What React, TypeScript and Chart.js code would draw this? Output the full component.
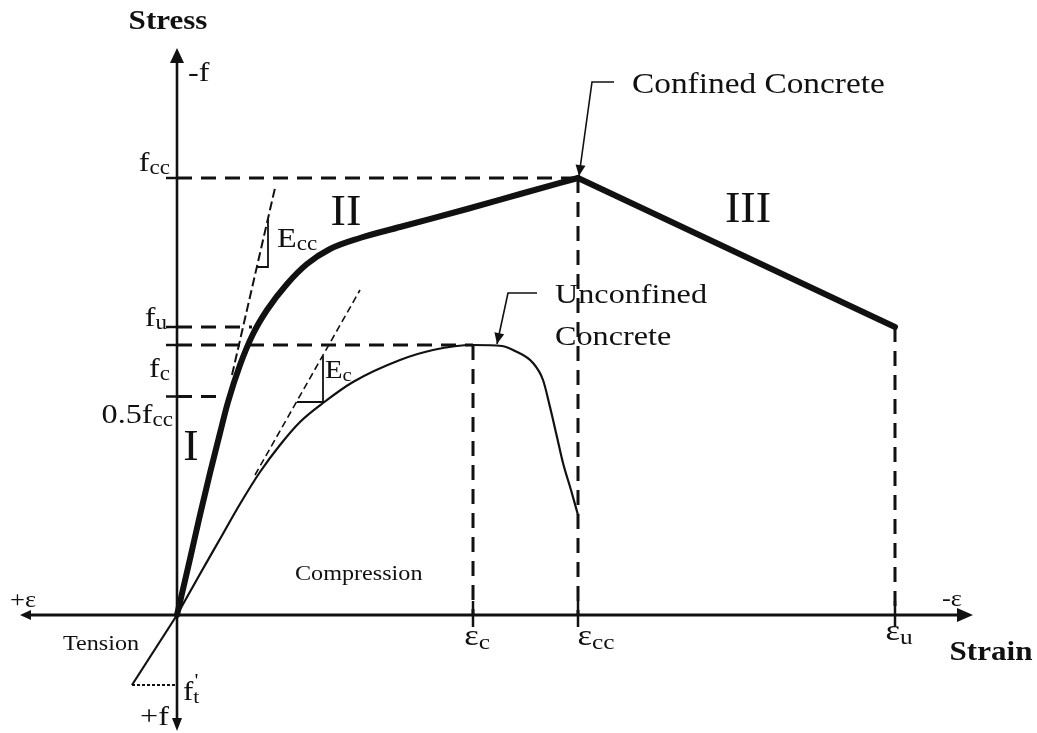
import { useEffect, useRef } from "react";
import { Chart, registerables } from "chart.js";

Chart.register(...registerables);

const INK = "#111111";
const SERIF = '"Liberation Serif", "Times New Roman", serif';

// Characteristic strains on the horizontal axis: εc, εcc, εu
const keyStrains = [2.96, 4.01, 7.18];
const keyStrainBase = ["ε", "ε", "ε"];
const keyStrainSub = ["c", "cc", "u"];

// Characteristic stresses on the vertical axis: fcc, fu, fc, 0.5fcc
const keyStresses = [43.7, 28.8, 27.0, 21.85];
const keyStressBase = ["f", "f", "f", "0.5f"];
const keyStressSub = ["cc", "u", "c", "cc"];

// Confined concrete: rising branch (I + II) up to the peak (εcc, fcc)
const confinedRiseStrain = [0, 0.13, 0.23, 0.33, 0.43, 0.51, 0.63, 0.76, 0.9, 1.1, 1.3, 1.53, 1.83, 2.23, 2.9, 3.45, 4.01];
const confinedRiseStress = [0, 5.6, 10.0, 14.2, 18.2, 21.3, 25.0, 28.1, 30.5, 33.1, 35.1, 36.6, 37.7, 38.8, 40.6, 42.15, 43.7];
// Confined concrete: linear softening branch (III) from the peak to (εu, fu)
const confinedFallStrain = [4.01, 7.18];
const confinedFallStress = [43.7, 28.8];

// Unconfined concrete
const unconfinedStrain = [0, 0.23, 0.43, 0.63, 0.83, 1.03, 1.23, 1.46, 1.76, 2.23, 2.56, 2.96, 3.25, 3.38, 3.56, 3.66, 3.73, 3.8, 3.86, 3.94, 4.01];
const unconfinedStress = [0, 4.1, 7.6, 11.1, 14.3, 17.0, 19.3, 21.2, 23.3, 25.5, 26.5, 27.0, 26.9, 26.4, 25.2, 23.5, 20.8, 17.8, 15.2, 12.5, 10.0];

// Tension branch down to the tensile strength f't
const tensionStrain = [0, -0.45];
const tensionStress = [0, -7.0];

// Initial tangent moduli Ecc and Ec with their slope triangles
const tangentCcStrain = [0.55, 0.98];
const tangentCcStress = [24.0, 42.7];
const triangleCcStrain = [0.8, 0.91, 0.91];
const triangleCcStress = [34.8, 34.8, 39.6];
const tangentCStrain = [0.78, 1.83];
const tangentCStress = [14.0, 32.5];
const triangleCStrain = [1.2, 1.46, 1.46];
const triangleCStress = [21.3, 21.3, 25.9];

// Where each stress guide meets its curve (same order as keyStresses)
const stressGuideEnds = [4.01, 0.75, 2.96, 0.48];
// Where each strain guide meets its curve (same order as keyStrains)
const strainGuideTops = [27.0, 43.7, 28.8];

// Visible extent of the two axes
const strainAxisRange = [-1.57, 7.96];
const stressAxisRange = [-11.6, 56.7];

const pts = (xs: number[], ys: number[]) => xs.map((v, i) => ({ x: v, y: ys[i] }));

const line = (data: any[], width: number, extra: any = {}) => ({
  data,
  showLine: true,
  borderColor: INK,
  backgroundColor: INK,
  borderWidth: width,
  pointRadius: 0,
  fill: false,
  tension: 0,
  ...extra,
});

type Seg = { t: string; sub?: boolean; sup?: boolean };

function rich(
  ctx: CanvasRenderingContext2D,
  segs: Seg[],
  x: number,
  y: number,
  size: number,
  align: "left" | "center" | "right" = "left",
  bold = false,
  stretch = 1.15
) {
  const small = Math.round(size * 0.72);
  const fontOf = (s: Seg) => `${bold ? "bold " : ""}${s.sub || s.sup ? small : size}px ${SERIF}`;
  let total = 0;
  const widths: number[] = [];
  segs.forEach((s) => {
    ctx.font = fontOf(s);
    const w = ctx.measureText(s.t).width;
    widths.push(w);
    total += s.sup ? 0 : w;
  });
  const W = total * stretch;
  const left = align === "left" ? x : align === "center" ? x - W / 2 : x - W;
  ctx.save();
  ctx.translate(left, y);
  ctx.scale(stretch, 1);
  ctx.textAlign = "left";
  ctx.textBaseline = "alphabetic";
  ctx.fillStyle = INK;
  let cx = 0;
  segs.forEach((s, i) => {
    ctx.font = fontOf(s);
    if (s.sup) {
      ctx.fillText(s.t, cx + 1, -size * 0.48);
    } else if (s.sub) {
      ctx.fillText(s.t, cx, size * 0.12);
      cx += widths[i];
    } else {
      ctx.fillText(s.t, cx, 0);
      cx += widths[i];
    }
  });
  ctx.restore();
}

function arrowHead(ctx: CanvasRenderingContext2D, fx: number, fy: number, tx: number, ty: number, len: number, half: number) {
  const a = Math.atan2(ty - fy, tx - fx);
  ctx.beginPath();
  ctx.moveTo(tx, ty);
  ctx.lineTo(tx - len * Math.cos(a) + half * Math.sin(a), ty - len * Math.sin(a) - half * Math.cos(a));
  ctx.lineTo(tx - len * Math.cos(a) - half * Math.sin(a), ty - len * Math.sin(a) + half * Math.cos(a));
  ctx.closePath();
  ctx.fill();
}

const diagramPlugin = {
  id: "stressStrainDiagram",
  beforeDatasetsDraw(chart: any) {
    const { ctx, scales } = chart;
    const X = (v: number) => scales.x.getPixelForValue(v);
    const Y = (v: number) => scales.y.getPixelForValue(v);
    ctx.save();
    ctx.strokeStyle = INK;
    ctx.fillStyle = INK;
    ctx.lineCap = "butt";
    ctx.setLineDash([]);

    // strain axis with arrows at both ends
    ctx.lineWidth = 3;
    ctx.beginPath();
    ctx.moveTo(X(strainAxisRange[0]) + 6, Y(0));
    ctx.lineTo(X(strainAxisRange[1]) - 8, Y(0));
    ctx.stroke();
    arrowHead(ctx, X(0), Y(0), X(strainAxisRange[1]), Y(0), 16, 7);
    arrowHead(ctx, X(0), Y(0), X(strainAxisRange[0]), Y(0), 11, 5);

    // stress axis with arrows at both ends
    ctx.lineWidth = 2.6;
    ctx.beginPath();
    ctx.moveTo(X(0), Y(stressAxisRange[1]) + 8);
    ctx.lineTo(X(0), Y(stressAxisRange[0]) - 8);
    ctx.stroke();
    arrowHead(ctx, X(0), Y(0), X(0), Y(stressAxisRange[1]), 15, 7);
    arrowHead(ctx, X(0), Y(0), X(0), Y(stressAxisRange[0]), 13, 5);

    // tick marks at the characteristic values
    ctx.lineWidth = 2.5;
    keyStresses.forEach((s) => {
      ctx.beginPath();
      ctx.moveTo(X(0) - 11, Y(s));
      ctx.lineTo(X(0), Y(s));
      ctx.stroke();
    });
    keyStrains.forEach((e) => {
      ctx.beginPath();
      ctx.moveTo(X(e), Y(0) - 14);
      ctx.lineTo(X(e), Y(0) + 12);
      ctx.stroke();
    });
    ctx.restore();
  },
  afterDatasetsDraw(chart: any) {
    const { ctx, scales } = chart;
    const X = (v: number) => scales.x.getPixelForValue(v);
    const Y = (v: number) => scales.y.getPixelForValue(v);
    ctx.save();
    ctx.strokeStyle = INK;
    ctx.fillStyle = INK;
    ctx.setLineDash([]);

    // axis titles and direction signs
    rich(ctx, [{ t: "Stress" }], X(-0.09), Y(58.6), 27, "center", true);
    rich(ctx, [{ t: "Strain" }], X(8.14), Y(-4.5), 27, "center", true);
    rich(ctx, [{ t: "-f" }], X(0.11), Y(53.4), 28);
    rich(ctx, [{ t: "+f" }], X(-0.08), Y(-11.0), 28, "right");
    rich(ctx, [{ t: "+ε" }], X(-1.67), Y(0.8), 23);
    rich(ctx, [{ t: "-ε" }], X(7.65), Y(0.9), 23);

    // stress level labels
    const stressOffsets = [-0.7, -0.1, 3.2, 2.6];
    const stressRight = [-0.07, -0.1, -0.07, -0.04];
    keyStresses.forEach((s, i) => {
      rich(ctx, [{ t: keyStressBase[i] }, { t: keyStressSub[i], sub: true }], X(stressRight[i]), Y(s - stressOffsets[i]), 28, "right");
    });
    // tensile strength label f't
    rich(ctx, [{ t: "f" }, { t: "'", sup: true }, { t: "t", sub: true }], X(0.06), Y(tensionStress[1] - 1.5), 27);

    // strain level labels
    const strainCenters = [0.04, 0.18, 0.04];
    const strainBaselines = [-3.0, -3.0, -2.5];
    keyStrains.forEach((e, i) => {
      rich(ctx, [{ t: keyStrainBase[i] }, { t: keyStrainSub[i], sub: true }], X(e + strainCenters[i]), Y(strainBaselines[i]), 30, "center");
    });

    // branch numbers
    rich(ctx, [{ t: "I" }], X(0.14), Y(15.5), 44, "center", false, 1.05);
    rich(ctx, [{ t: "II" }], X(1.69), Y(39.0), 44, "center", false, 1.05);
    rich(ctx, [{ t: "III" }], X(5.71), Y(39.3), 44, "center", false, 1.05);

    // moduli
    rich(ctx, [{ t: "E" }, { t: "cc", sub: true }], X(1.0), Y(36.8), 28);
    rich(ctx, [{ t: "E" }, { t: "c", sub: true }], X(1.48), Y(23.7), 25);

    // regions
    rich(ctx, [{ t: "Compression" }], X(1.18), Y(3.5), 21);
    rich(ctx, [{ t: "Tension" }], X(-1.14), Y(-3.5), 21);

    // curve callouts
    rich(ctx, [{ t: "Confined Concrete" }], X(4.55), Y(52.2), 29);
    rich(ctx, [{ t: "Unconfined" }], X(3.78), Y(31.2), 28);
    rich(ctx, [{ t: "Concrete" }], X(3.78), Y(27.0), 28);

    ctx.lineWidth = 1.6;
    const leader = (hx0: number, hx1: number, hy: number, tx: number, ty: number) => {
      ctx.beginPath();
      ctx.moveTo(X(hx1), Y(hy));
      ctx.lineTo(X(hx0), Y(hy));
      ctx.lineTo(X(tx), Y(ty));
      ctx.stroke();
      arrowHead(ctx, X(hx0), Y(hy), X(tx), Y(ty), 11, 5);
    };
    leader(4.15, 4.37, 53.3, keyStrains[1] + 0.01, keyStresses[0] + 0.2);
    leader(3.31, 3.6, 32.2, 3.2, 27.1);

    ctx.restore();
  },
};

export default function App() {
  const canvasRef = useRef<HTMLCanvasElement | null>(null);

  useEffect(() => {
    if (!canvasRef.current) return;
    const guideDash = { borderDash: [15, 9] };

    const datasets: any[] = [
      // curves drawn on top
      line(pts(confinedRiseStrain, confinedRiseStress), 6, { tension: 0.4, cubicInterpolationMode: "monotone", borderCapStyle: "round" }),
      line(pts(confinedFallStrain, confinedFallStress), 6, { borderCapStyle: "round" }),
      line(pts(unconfinedStrain, unconfinedStress), 2.2, { tension: 0.4, cubicInterpolationMode: "monotone" }),
      line(pts(tensionStrain, tensionStress), 2.2),
      line(pts(tangentCcStrain, tangentCcStress), 2, { borderDash: [9, 4] }),
      line(pts(triangleCcStrain, triangleCcStress), 1.8),
      line(pts(tangentCStrain, tangentCStress), 1.6, { borderDash: [7, 4] }),
      line(pts(triangleCStrain, triangleCStress), 1.8),
      // f't dotted level
      line(pts([tensionStrain[1], 0], [tensionStress[1], tensionStress[1]]), 2, { borderDash: [3, 2] }),
    ];
    keyStresses.forEach((s, i) => {
      datasets.push(line(pts([0, stressGuideEnds[i]], [s, s]), 3, guideDash));
    });
    keyStrains.forEach((e, i) => {
      datasets.push(line(pts([e, e], [strainGuideTops[i], 0]), 3, guideDash));
    });

    const chart = new Chart(canvasRef.current, {
      type: "scatter",
      data: { datasets },
      options: {
        animation: false,
        responsive: false,
        events: [],
        layout: { padding: 0 },
        plugins: { legend: { display: false }, tooltip: { enabled: false } },
        scales: {
          x: { type: "linear", min: -1.77, max: 8.6, display: false },
          y: { type: "linear", min: -11.8, max: 61.5, display: false },
        },
      },
      plugins: [diagramPlugin as any],
    });
    return () => chart.destroy();
  }, []);

  return (
    <div style={{ position: "absolute", left: 0, top: 0, width: 1037, height: 733, background: "#ffffff" }}>
      <canvas ref={canvasRef} width={1037} height={733} />
    </div>
  );
}
